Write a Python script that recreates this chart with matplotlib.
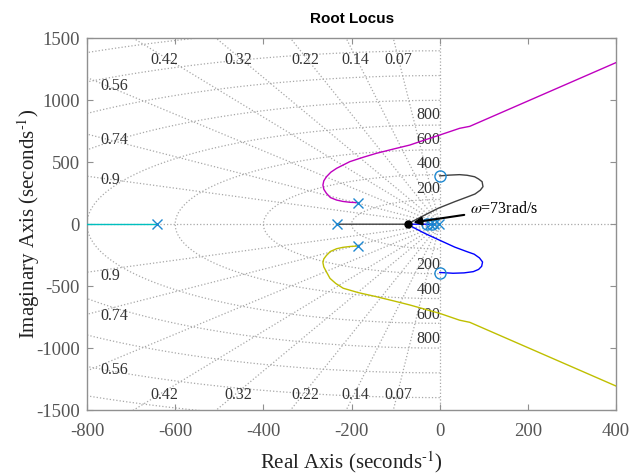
import numpy as np
import matplotlib
matplotlib.use('Agg')
import matplotlib.pyplot as plt

plt.rcParams['font.family'] = 'Liberation Serif'
plt.rcParams['mathtext.fontset'] = 'stix'
plt.rcParams['axes.unicode_minus'] = False

# Root locus branches
cyan_x = [-642, -800]
cyan_y = [0, 0]

black_x = [-234, -72, -60, -34, -4, 34, 64, 80, 92, 98, 96, 88, 79, 62, 45, 20, 0]
black_y = [0, 0, 26, 74, 128, 182, 222, 244, 275, 303, 343, 365, 383, 395, 400, 396, 390]

blue_x = [-10, -72, -60, -34, -6, 34, 62, 78, 90, 97, 95, 88, 76, 55, 30, 12, 0]
blue_y = [0, 0, -26, -74, -120, -185, -222, -242, -272, -305, -340, -365, -383, -393, -396, -392, -390]

magenta_x = [-185, -204, -220, -234, -248, -257, -263, -265, -263, -257, -247, -234,
             -204, -174, -144, -106, -68, -34, 0, 45, 68, 400]
magenta_y = [174, 177, 184, 195, 215, 249, 282, 316, 350, 383, 420, 451,
             505, 540, 572, 606, 639, 680, 720, 774, 790, 1305]

yellow_x = [-185, -204, -220, -234, -248, -257, -263, -265, -263, -257, -249, -236,
             -219, -184, -144, -106, -68, -34, 0, 45, 68, 400]
yellow_y = [-176, -180, -187, -198, -220, -252, -280, -310, -345, -385, -437, -478,
            -517, -553, -585, -618, -652, -686, -720, -775, -792, -1307]

pole_x = [-642, -234, -185, -185, -22, -12, -2]
pole_y = [0, 0, 175, -175, 0, 0, 0]
zero_x = [0, 0, -28, -18]
zero_y = [390, -390, 0, 0]

point_x = [-72]
point_y = [0]

# sgrid values
zetas = [0.07, 0.14, 0.22, 0.32, 0.42, 0.56, 0.74, 0.9]
top_zetas = [0.07, 0.14, 0.22, 0.32, 0.42]
side_zetas = [0.56, 0.74, 0.9]
wns = [200, 400, 600, 800, 1000, 1200, 1400, 1600]
wn_labels = [200, 400, 600, 800]

grid_kw = dict(color='#a8a8a8', linestyle=':', linewidth=0.9, zorder=1)
lab_kw = dict(fontsize=11.5, color='#333333', zorder=2)

fig = plt.figure(figsize=(6.36, 4.74), dpi=100)
ax = fig.add_axes([0.1368, 0.135, 0.832, 0.784])

# damping rays
for z in zetas:
    w = np.sqrt(1 - z**2)
    ax.plot([0, -z * 3000], [0, w * 3000], **grid_kw)
    ax.plot([0, -z * 3000], [0, -w * 3000], **grid_kw)
# natural frequency arcs
th = np.linspace(np.pi / 2, 3 * np.pi / 2, 200)
for wn in wns:
    ax.plot(wn * np.cos(th), wn * np.sin(th), **grid_kw)
ax.axhline(0, **grid_kw)
ax.axvline(0, **grid_kw)

# damping labels
for z in top_zetas:
    k = z / np.sqrt(1 - z**2)
    ax.text(-k * 1352, 1325, f'{z:g}', ha='center', va='center', **lab_kw)
    ax.text(-k * 1352, -1379, f'{z:g}', ha='center', va='center', **lab_kw)
for z in side_zetas:
    yr = 760 * np.sqrt(1 - z**2) / z
    ax.text(-770, yr - 12, f'{z:g}', ha='left', va='center', **lab_kw)
    ax.text(-770, -yr - 54, f'{z:g}', ha='left', va='center', **lab_kw)
for wn in wn_labels:
    ax.text(2, wn + 83, str(wn), ha='right', va='center', **lab_kw)
    ax.text(2, -wn - 130, str(wn), ha='right', va='center', **lab_kw)

# locus branches
ax.plot(cyan_x, cyan_y, color=(0, 0.75, 0.75), lw=1, zorder=3)
ax.plot(black_x, black_y, color=(0.25, 0.25, 0.25), lw=1, zorder=3)
ax.plot(blue_x, blue_y, color=(0, 0, 1), lw=1, zorder=3)
ax.plot(magenta_x, magenta_y, color=(0.75, 0, 0.75), lw=1, zorder=3)
ax.plot(yellow_x, yellow_y, color=(0.75, 0.75, 0), lw=1, zorder=3)

mk = '#1E88D0'
ax.plot(pole_x, pole_y, 'x', color=mk, ms=7, mew=1, zorder=4)
ax.plot(zero_x, zero_y, 'o', mfc='none', mec=mk, ms=8, mew=1, zorder=4)
ax.plot(point_x, point_y, 'o', color='black', ms=5, zorder=5)

ax.annotate(r'$\omega$=73rad/s', xy=(point_x[0] + 12, point_y[0] + 14), xytext=(68, 123),
            ha='left', va='center', fontsize=11.5,
            arrowprops=dict(arrowstyle='-|>', color='black', lw=1.5,
                            mutation_scale=12, shrinkA=2, shrinkB=0),
            zorder=6)

ax.set_xlim(-800, 400)
ax.set_ylim(-1500, 1500)
ax.set_xticks(np.arange(-800, 401, 200))
ax.set_yticks(np.arange(-1500, 1501, 500))
ax.tick_params(direction='in', top=True, right=True, length=4, width=0.8,
               labelsize=13.5, colors='#909090', labelcolor='#555555')
ax.tick_params(axis='x', pad=9)
ax.tick_params(axis='y', pad=5)
for s in ax.spines.values():
    s.set_color('#909090')
    s.set_linewidth(1)

ax.set_xlabel(r'Real Axis (seconds$^{\text{-1}}$)', fontsize=15, color='#222222')
ax.set_ylabel(r'Imaginary Axis (seconds$^{\text{-1}}$)', fontsize=15, color='#222222')
ax.xaxis.set_label_coords(0.5, -0.105)
ax.yaxis.set_label_coords(-0.085, 0.5)
ax.set_title('Root Locus', fontsize=11, fontweight='bold', family='Liberation Sans', pad=11)

fig.savefig('out.png', dpi=100)
